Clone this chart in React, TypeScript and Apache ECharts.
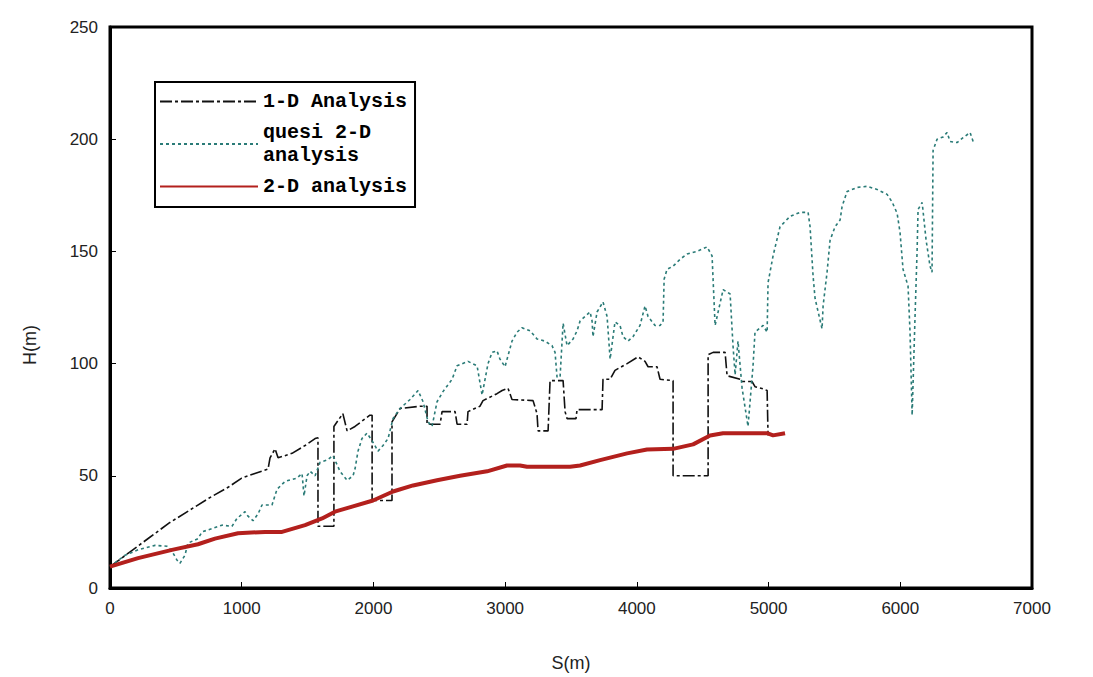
import React, { useEffect, useRef } from "react";
import * as echarts from "echarts";

const xTicks = [0, 1000, 2000, 3000, 4000, 5000, 6000, 7000];
const yTicks = [0, 50, 100, 150, 200, 250];

// 1-D Analysis: [S(m), H(m)]
const oneD: [number, number][] = [
  [0, 9.5], [150, 16], [300, 22.5], [450, 29], [600, 34.5], [750, 40], [900, 45], [1000, 49],
  [1100, 51], [1200, 53], [1215, 58], [1253, 62], [1276, 58], [1382, 60], [1481, 63.5], [1557, 66.6],
  [1579, 67], [1579, 27.5], [1700, 27.5], [1700, 72], [1768, 77.7], [1800, 70], [1860, 72], [1973, 77],
  [1990, 77], [1990, 39], [2141, 39], [2141, 74], [2202, 80], [2354, 81], [2407, 81], [2407, 73],
  [2506, 73], [2521, 78.6], [2620, 78.6], [2635, 73], [2711, 73], [2718, 78.6], [2809, 81], [2832, 83.5],
  [2938, 86.6], [2977, 88], [3022, 89], [3052, 84], [3212, 83.5], [3242, 77.7], [3250, 70], [3326, 70],
  [3341, 92.4], [3440, 92.4], [3455, 78.6], [3470, 75.5], [3538, 75.5], [3546, 79.5], [3736, 79.5],
  [3743, 93], [3797, 93], [3834, 97], [3926, 100], [4009, 103], [4062, 101], [4085, 98.6], [4153, 98.6],
  [4176, 93], [4275, 92.4], [4275, 50], [4541, 50], [4541, 104], [4579, 105], [4670, 105], [4685, 94.6],
  [4784, 93], [4799, 92], [4875, 92], [4897, 89.7], [4958, 88.8], [4989, 88], [4996, 68],
];

// quesi 2-D analysis
const quasi2D: [number, number][] = [
  [0, 9.5], [114, 14.6], [213, 17], [342, 19], [433, 18.6], [471, 16.4], [509, 12.4], [531, 11],
  [569, 14.6], [592, 20], [668, 22], [699, 25], [850, 28], [926, 27.5], [964, 31], [1025, 34],
  [1048, 32], [1086, 30], [1124, 33], [1154, 37], [1230, 37], [1268, 44], [1329, 47.5], [1420, 49],
  [1458, 51], [1473, 41], [1496, 50], [1519, 52], [1557, 50], [1595, 56], [1648, 57], [1693, 59],
  [1746, 52], [1800, 48], [1845, 50], [1860, 53], [1883, 61], [1913, 66.6], [1951, 69], [1989, 65.7],
  [2035, 61], [2073, 63.5], [2111, 66.6], [2149, 75.5], [2202, 80], [2278, 84], [2339, 88], [2377, 83],
  [2415, 74], [2445, 72], [2483, 83], [2528, 87.5], [2597, 93], [2635, 99], [2718, 101], [2787, 99],
  [2825, 86], [2870, 100], [2901, 105], [2938, 105.7], [2961, 102], [2999, 98.6], [3052, 110], [3090, 114],
  [3128, 116], [3189, 114.6], [3242, 111], [3303, 110], [3356, 108], [3379, 105], [3394, 94], [3417, 94],
  [3440, 118], [3470, 108], [3516, 111], [3546, 114.6], [3569, 119], [3607, 121], [3645, 123], [3660, 119],
  [3667, 112], [3698, 123], [3743, 127.5], [3774, 121], [3797, 102], [3834, 118.6], [3872, 117], [3895, 112],
  [3933, 110], [3971, 112], [4024, 117], [4062, 125.7], [4085, 121], [4138, 117], [4176, 117], [4199, 118.6],
  [4207, 137.6], [4229, 142], [4275, 143.4], [4328, 146.5], [4381, 148.8], [4457, 150], [4533, 152], [4571, 148],
  [4594, 117], [4655, 133], [4708, 131], [4730, 108], [4746, 95], [4768, 110], [4799, 89], [4844, 72],
  [4882, 99], [4897, 114], [4958, 117], [4989, 114], [4996, 136], [5034, 148], [5087, 161], [5163, 165.6],
  [5239, 167.4], [5300, 167.4], [5315, 161], [5338, 139], [5353, 129], [5406, 115.5], [5414, 125.7], [5444, 140.7],
  [5467, 155], [5505, 161], [5543, 164], [5558, 170], [5596, 176.7], [5672, 178.5], [5748, 179], [5824, 177.6],
  [5900, 175.4], [5938, 172], [5976, 167], [5998, 158.5], [6021, 142], [6059, 134.5], [6074, 114], [6090, 77],
  [6112, 121], [6128, 151], [6135, 168.7], [6166, 171.8], [6196, 155], [6226, 143.4], [6241, 140.7], [6249, 195],
  [6279, 200], [6325, 201], [6355, 203], [6378, 199], [6431, 198.5], [6477, 200.7], [6530, 203], [6553, 199],
];

// 2-D analysis
const twoD: [number, number][] = [
  [0, 9.5], [213, 13.3], [471, 17], [668, 19.5], [797, 22], [972, 24.4], [1177, 25], [1306, 25],
  [1481, 28], [1610, 31], [1708, 34], [1845, 36.4], [1997, 39], [2149, 43], [2301, 45.7], [2483, 48],
  [2658, 50], [2863, 52], [3014, 54.6], [3113, 54.6], [3166, 54], [3493, 54], [3569, 54.6], [3721, 57],
  [3926, 60], [4077, 61.7], [4275, 62], [4427, 64], [4556, 68], [4654, 69], [4989, 69], [5034, 68], [5125, 69],
];

const seriesNames = ["1-D Analysis", "quesi 2-D analysis", "2-D analysis"];

export default function App() {
  const ref = useRef<HTMLDivElement>(null);
  useEffect(() => {
    if (!ref.current) return;
    const chart = echarts.init(ref.current, null, { renderer: "svg" });
    const labelFont = { fontFamily: "Liberation Sans", fontSize: 17, color: "#222" };
    chart.setOption({
      animation: false,
      backgroundColor: "#fff",
      grid: { left: 110, right: 61, top: 27, bottom: 87, show: true, borderColor: "#000", borderWidth: 3, backgroundColor: "transparent" },
      xAxis: {
        type: "value",
        min: xTicks[0],
        max: xTicks[xTicks.length - 1],
        interval: 1000,
        name: "S(m)",
        nameLocation: "middle",
        nameGap: 66,
        nameTextStyle: { ...labelFont, fontSize: 18 },
        axisLine: { lineStyle: { color: "#000", width: 3 } },
        axisTick: { inside: true, length: 6, lineStyle: { color: "#000", width: 1 } },
        axisLabel: { ...labelFont, margin: 12, formatter: (v: number) => String(v) },
        splitLine: { show: false },
      },
      yAxis: {
        type: "value",
        min: yTicks[0],
        max: yTicks[yTicks.length - 1],
        interval: 50,
        axisLine: { show: true, lineStyle: { color: "#000", width: 3 } },
        axisTick: { show: true, inside: true, length: 6, lineStyle: { color: "#000", width: 1 } },
        axisLabel: { ...labelFont, margin: 12, formatter: (v: number) => String(v) },
        splitLine: { show: false },
      },
      graphic: [
        {
          type: "text",
          x: 30,
          y: 345,
          rotation: Math.PI / 2,
          style: { text: "H(m)", fontFamily: "Liberation Sans", fontSize: 18, fill: "#222", align: "center", verticalAlign: "middle" },
        },
      ],
      legend: {
        orient: "vertical",
        left: 155,
        top: 82,
        data: seriesNames,
        borderColor: "#000",
        borderWidth: 2,
        backgroundColor: "#fff",
        padding: [8, 8, 9, 4],
        itemWidth: 98,
        itemHeight: 14,
        itemGap: 8,
        selectedMode: false,
        itemStyle: { opacity: 0 },
        formatter: (n: string) => (n === "quesi 2-D analysis" ? "quesi 2-D\nanalysis" : n),
        textStyle: { fontFamily: "Liberation Mono", fontWeight: "bold", fontSize: 20, color: "#000", lineHeight: 23 },
      },
      series: [
        {
          name: seriesNames[0],
          type: "line",
          data: oneD,
          symbol: "none",
          lineStyle: { color: "#111", width: 1.6, type: [12, 3, 3, 3] },
          itemStyle: { color: "#111" },
        },
        {
          name: seriesNames[1],
          type: "line",
          data: quasi2D,
          symbol: "none",
          lineStyle: { color: "#2a7b77", width: 1.6, type: [3, 3] },
          itemStyle: { color: "#2a7b77" },
        },
        {
          name: seriesNames[2],
          type: "line",
          data: twoD,
          symbol: "none",
          lineStyle: { color: "#b3201d", width: 4 },
          itemStyle: { color: "#b3201d" },
        },
      ],
    });
    return () => chart.dispose();
  }, []);
  return <div ref={ref} style={{ position: "fixed", left: 0, top: 0, width: 1093, height: 677, background: "#fff" }} />;
}
